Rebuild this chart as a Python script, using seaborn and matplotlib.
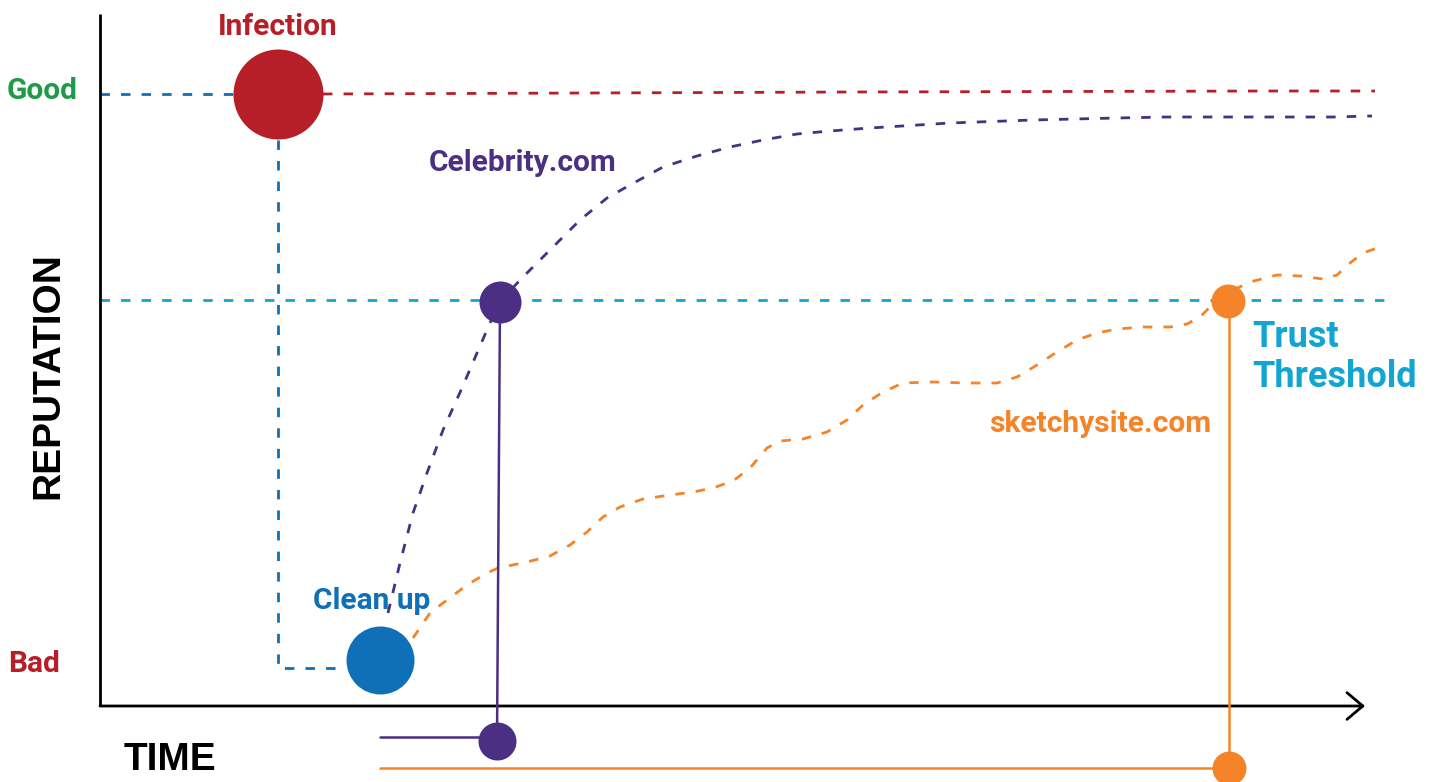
import matplotlib
matplotlib.use("Agg")  # no display
import matplotlib.pyplot as plt
import seaborn as sns
from matplotlib import font_manager

# ── Data (time / reputation units) ──
GOOD_REP = 612
THRESHOLD_REP = 406
BAD_REP = 46

# celebrity.com recovery curve
CELEB_TIME = [288, 300, 313, 327, 343, 362, 377, 390, 400, 420, 440, 460, 480, 507, 530,
              563, 597, 630, 663, 697, 730, 770, 850, 933, 1017, 1067, 1233, 1272]
CELEB_REP = [93, 143, 193, 233, 276, 318, 353, 383, 404, 426, 446, 466, 486, 508, 521,
             539, 550, 559, 566, 572, 575, 578, 583, 586, 588, 589, 589, 590]

# sketchysite.com recovery curve
SKETCHY_TIME = [313, 330, 347, 367, 387, 398, 427, 450, 470, 487, 503, 520, 543, 570, 593,
                613, 633, 650, 667, 680, 703, 727, 747, 763, 783, 803, 833, 867, 897, 917,
                937, 957, 977, 997, 1017, 1043, 1070, 1087, 1100, 1112, 1127, 1150, 1177,
                1200, 1223, 1237, 1250, 1263, 1283]
SKETCHY_REP = [68, 93, 106, 121, 133, 138, 144, 150, 161, 174, 189, 199, 207, 211, 214,
               218, 225, 238, 258, 265, 267, 274, 286, 301, 314, 323, 324, 323, 323, 329,
               341, 354, 366, 373, 377, 379, 379, 382, 389, 401, 413, 424, 431,
               430, 427, 431, 443, 453, 460]

# "no infection" baseline (red) and the infection drop path (blue)
HEALTHY_TIME = [223, 750, 1170, 1275]
HEALTHY_REP = [612, 614, 615, 615]
PRE_TIME = [0, 133]
DROP_TIME = [178, 178, 245]
DROP_REP = [566, 38, 38]
THRESHOLD_TIME = [0, 1285]

# events: (time, reputation, radius in px)
INFECTION = (178, GOOD_REP, 45)
CLEANUP = (280, BAD_REP, 34)
CELEB_CROSS = (400, 404, 21)
SKETCHY_CROSS = (1128, 405, 17)
CELEB_MARK_REP = -35
SKETCHY_MARK_REP = -62
MARK_START = 280

RED = "#b71f28"
GREEN = "#1f9a48"
BLUE = "#0f6fb7"
CYAN = "#12a5d1"
PURPLE = "#4a2f83"
ORANGE = "#f58428"

sns.set_theme(style="white")
names = {f.name for f in font_manager.fontManager.ttflist}
LABEL_FONT = "Roboto" if "Roboto" in names else "DejaVu Sans"
AXIS_FONT = "Liberation Sans" if "Liberation Sans" in names else "DejaVu Sans"
plt.rcParams["font.family"] = [LABEL_FONT, "DejaVu Sans"]

fig = plt.figure(figsize=(14.4, 7.82), dpi=100)
ax = fig.add_axes([0, 0, 1, 1])
ax.set_xlim(-100, 1340)
ax.set_ylim(-76, 706)
ax.set_axis_off()

LW = 2.0
DASH = (3.4, 4.0)
SOLID_LW = 1.8


def dashed(x, y, color):
    sns.lineplot(x=x, y=y, ax=ax, color=color, lw=LW, sort=False, estimator=None,
                 zorder=2).lines[-1].set_dashes(DASH)


def dot(ev, color):
    t, r, rad = ev
    sns.scatterplot(x=[t], y=[r], ax=ax, s=(2 * rad * 0.72) ** 2, color=color,
                    linewidth=0, zorder=5)


# axes
ax.plot([0, 0], [0, 692], color="black", lw=2, solid_capstyle="butt", zorder=3)
ax.annotate("", xy=(1265, 0), xytext=(0, 0),
            arrowprops=dict(arrowstyle="->,head_length=0.95,head_width=0.8",
                            lw=2, color="black", shrinkA=0, shrinkB=0))

# reference lines
dashed(THRESHOLD_TIME, [THRESHOLD_REP] * 2, CYAN)
dashed(PRE_TIME, [GOOD_REP] * 2, BLUE)
dashed(DROP_TIME, DROP_REP, BLUE)
dashed(HEALTHY_TIME, HEALTHY_REP, RED)

# recovery curves
dashed(CELEB_TIME, CELEB_REP, PURPLE)
dashed(SKETCHY_TIME, SKETCHY_REP, ORANGE)

# time markers
ax.plot([CELEB_CROSS[0], CELEB_CROSS[0] - 3], [CELEB_CROSS[1], CELEB_MARK_REP],
        color=PURPLE, lw=SOLID_LW, zorder=3)
ax.plot([MARK_START, CELEB_CROSS[0] - 3], [CELEB_MARK_REP + 4] * 2,
        color=PURPLE, lw=SOLID_LW, zorder=3)
ax.plot([SKETCHY_CROSS[0] + 1] * 2, [SKETCHY_CROSS[1], SKETCHY_MARK_REP],
        color=ORANGE, lw=SOLID_LW, zorder=3)
ax.plot([MARK_START, SKETCHY_CROSS[0] + 1], [SKETCHY_MARK_REP] * 2,
        color=ORANGE, lw=SOLID_LW, zorder=3)

dot(INFECTION, RED)
dot(CLEANUP, BLUE)
dot(CELEB_CROSS, PURPLE)
dot((CELEB_CROSS[0] - 3, CELEB_MARK_REP, 19), PURPLE)
dot(SKETCHY_CROSS, ORANGE)
dot((SKETCHY_CROSS[0] + 1, SKETCHY_MARK_REP, 17), ORANGE)

# labels
lab = dict(fontsize=21.5, fontweight="bold", va="baseline", ha="center")
ax.text(-58, 607, "Good", color=GREEN, **lab)
ax.text(-66, 34, "Bad", color=RED, **lab)
ax.text(178, 671, "Infection", color=RED, **lab)
ax.text(423, 535, "Celebrity.com", color=PURPLE, **lab)
ax.text(272, 97, "Clean up", color=BLUE, **lab)
ax.text(1000, 274, "sketchysite.com", color=ORANGE, **lab)
ax.text(1152, 359, "Trust", color=CYAN, fontsize=26, fontweight="bold", va="baseline")
ax.text(1152, 319, "Threshold", color=CYAN, fontsize=26, fontweight="bold", va="baseline")

ax.text(-52, 330, "REPUTATION", rotation=90, ha="center", va="center",
        fontsize=28, fontweight="bold", family=AXIS_FONT, color="black")
ax.text(70, -64, "TIME", ha="center", va="baseline",
        fontsize=28, fontweight="bold", family=AXIS_FONT, color="black")

fig.savefig("out.png", dpi=100, facecolor="white")
